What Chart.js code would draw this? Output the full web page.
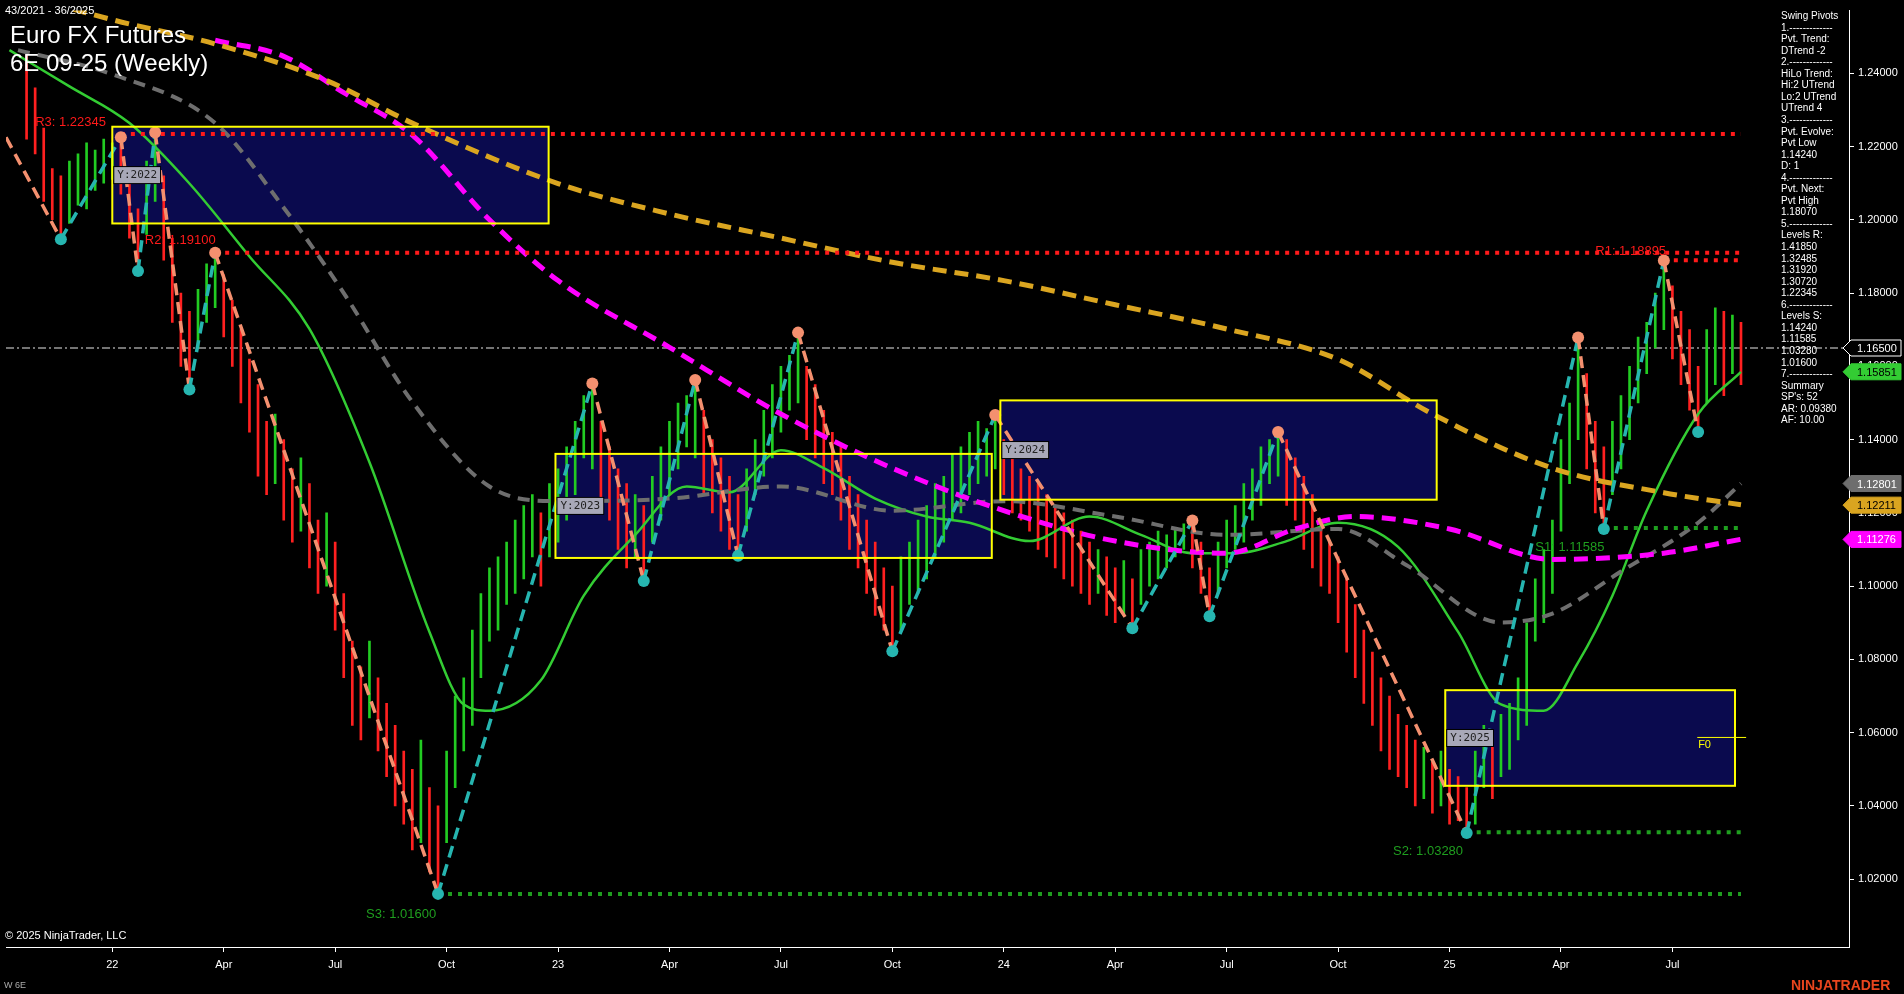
<!DOCTYPE html>
<html lang="en">
<head>
<meta charset="UTF-8">
<title>Euro FX Futures 6E 09-25 (Weekly)</title>
<style>
    body { margin: 0; padding: 0; background: #000; overflow: hidden; }
    #wrap { width: 1904px; height: 994px; }
</style>
<script src="https://cdn.jsdelivr.net/npm/chart.js"></script>
</head>
<body>
<div id="wrap"><canvas id="chart"></canvas></div>
<script>
    // week index 0 = first week of 2022
    const tickWeeks = [0, 13, 26, 39, 52, 65, 78, 91, 104, 117, 130, 143, 156, 169, 182];
    const tickLabels = ['22', 'Apr', 'Jul', 'Oct', '23', 'Apr', 'Jul', 'Oct', '24', 'Apr', 'Jul', 'Oct', '25', 'Apr', 'Jul'];
    const priceTicks = [1.02, 1.04, 1.06, 1.08, 1.10, 1.12, 1.14, 1.16, 1.18, 1.20, 1.22, 1.24];

    const firstWeek = -10;
    // weekly [low, high]
    const bars = [
        [1.222,1.245],[1.218,1.236],[1.205,1.225],[1.200,1.214],[1.195,1.212],[1.199,1.216],[1.204,1.218],[1.203,1.221],[1.208,1.219],[1.210,1.222],
        [1.211,1.221],[1.207,1.2225],[1.195,1.214],[1.186,1.203],[1.196,1.216],[1.205,1.2238],[1.189,1.212],[1.172,1.195],[1.160,1.180],[1.1537,1.175],
        [1.165,1.181],[1.172,1.188],[1.176,1.191],[1.168,1.185],[1.160,1.178],[1.150,1.170],[1.142,1.162],[1.130,1.155],[1.125,1.145],[1.128,1.147],
        [1.118,1.140],[1.112,1.132],[1.115,1.135],[1.105,1.128],[1.098,1.118],[1.100,1.120],[1.088,1.112],[1.075,1.098],[1.062,1.085],[1.058,1.078],
        [1.064,1.085],[1.055,1.075],[1.048,1.068],[1.040,1.062],[1.035,1.055],[1.028,1.050],[1.030,1.058],[1.022,1.045],[1.016,1.040],[1.030,1.055],
        [1.045,1.070],[1.055,1.075],[1.062,1.088],[1.075,1.098],[1.085,1.105],[1.088,1.108],[1.095,1.112],[1.098,1.118],[1.102,1.122],[1.108,1.125],
        [1.100,1.120],[1.108,1.128],[1.112,1.132],[1.118,1.138],[1.125,1.145],[1.135,1.152],[1.132,1.1553],[1.122,1.145],[1.118,1.138],[1.110,1.132],
        [1.105,1.128],[1.108,1.125],[1.1014,1.122],[1.112,1.130],[1.118,1.138],[1.125,1.145],[1.132,1.150],[1.138,1.152],[1.135,1.1563],[1.125,1.148],
        [1.120,1.140],[1.115,1.135],[1.110,1.130],[1.1083,1.125],[1.115,1.132],[1.125,1.140],[1.130,1.148],[1.135,1.155],[1.142,1.160],[1.148,1.163],
        [1.150,1.1692],[1.140,1.160],[1.135,1.155],[1.128,1.148],[1.125,1.142],[1.118,1.138],[1.110,1.130],[1.105,1.125],[1.098,1.118],[1.092,1.112],
        [1.088,1.105],[1.0822,1.100],[1.088,1.108],[1.095,1.112],[1.098,1.118],[1.102,1.122],[1.108,1.128],[1.112,1.130],[1.118,1.136],[1.120,1.138],
        [1.125,1.142],[1.128,1.145],[1.130,1.143],[1.132,1.1467],[1.125,1.140],[1.120,1.138],[1.118,1.132],[1.115,1.130],[1.110,1.128],[1.108,1.125],
        [1.105,1.122],[1.102,1.120],[1.100,1.118],[1.098,1.115],[1.095,1.112],[1.098,1.110],[1.092,1.108],[1.090,1.105],[1.092,1.107],[1.0885,1.102],
        [1.095,1.110],[1.100,1.112],[1.102,1.115],[1.105,1.114],[1.108,1.116],[1.110,1.117],[1.105,1.1179],[1.098,1.112],[1.0918,1.105],[1.098,1.112],
        [1.105,1.118],[1.110,1.122],[1.112,1.128],[1.118,1.132],[1.122,1.138],[1.128,1.140],[1.130,1.1421],[1.122,1.140],[1.118,1.135],[1.110,1.130],
        [1.105,1.125],[1.100,1.118],[1.098,1.112],[1.090,1.108],[1.082,1.102],[1.075,1.095],[1.068,1.088],[1.062,1.082],[1.055,1.075],[1.050,1.070],
        [1.048,1.065],[1.045,1.062],[1.040,1.058],[1.042,1.056],[1.038,1.052],[1.040,1.055],[1.035,1.050],[1.036,1.048],[1.0326,1.045],[1.035,1.055],
        [1.045,1.062],[1.042,1.060],[1.048,1.065],[1.050,1.068],[1.058,1.075],[1.062,1.090],[1.085,1.102],[1.090,1.110],[1.098,1.118],[1.115,1.140],
        [1.128,1.150],[1.140,1.1679],[1.132,1.158],[1.120,1.145],[1.1156,1.138],[1.125,1.145],[1.132,1.152],[1.140,1.160],[1.150,1.168],[1.158,1.172],
        [1.165,1.180],[1.170,1.1889],[1.162,1.182],[1.155,1.175],[1.148,1.170],[1.1421,1.160],[1.150,1.170],[1.155,1.176],[1.152,1.175],[1.158,1.174],
        [1.155,1.172]
    ];

    // moving averages, sampled [week, price]
    const maFast = [[-12,1.2463],[-5,1.2364],[2,1.2264],[9,1.2099],[16,1.19],[23,1.1702],[30,1.1338],[37,1.0875],[41,1.0677],[44,1.066],[50,1.0743],[55,1.0974],
        [61,1.114],[67,1.1272],[72,1.1256],[78,1.1371],[83,1.1322],[89,1.1239],[95,1.119],[100,1.1173],[107,1.1123],[114,1.119],[120,1.114],[126,1.109],
        [131,1.109],[137,1.1123],[143,1.1173],[150,1.1107],[157,1.0875],[162,1.0677],[167,1.066],[171,1.0792],[175,1.0974],[179,1.1206],[185,1.147],[190,1.1585]];
    const maGray = [[-11,1.2463],[0,1.2397],[12,1.2264],[20,1.2033],[27,1.18],[35,1.1503],[44,1.1272],[52,1.1232],[65,1.1239],[78,1.1272],[91,1.1206],
        [104,1.1232],[117,1.119],[130,1.114],[143,1.1156],[151,1.1057],[162,1.0901],[168,1.0925],[176,1.104],[185,1.1173],[190,1.128]];
    const maMagenta = [[12,1.249],[20,1.2446],[27,1.2347],[35,1.2231],[44,1.2],[52,1.1834],[65,1.1652],[78,1.147],[91,1.1322],[104,1.1206],[117,1.1123],
        [130,1.109],[138,1.1156],[145,1.119],[156,1.1156],[168,1.1073],[181,1.109],[190,1.1128]];
    const maGold = [[-12,1.2625],[0,1.2546],[12,1.248],[25,1.238],[35,1.2264],[52,1.2099],[65,1.2016],[78,1.195],[91,1.1884],[104,1.1834],[117,1.1768],
        [130,1.1702],[143,1.1619],[154,1.147],[168,1.1322],[181,1.1255],[190,1.1222]];

    // swing pivots [week, price]
    const pivots = [[-12.4,1.2225],[-6,1.1947],[1,1.2225],[3,1.186],[5,1.2238],[9,1.1537],[12,1.191],[38,1.016],[56,1.1553],[62,1.1014],[68,1.1563],
        [73,1.1083],[80,1.1692],[91,1.0822],[103,1.1467],[119,1.0885],[126,1.1179],[128,1.0918],[136,1.1421],[158,1.0326],[171,1.1679],[174,1.1156],
        [181,1.1889],[185,1.1421]];

    // levels: [label, price, from week, to week, colour]
    const levels = [
        ['R3: 1.22345', 1.22345, 1, 190, '#ff1a1a'],
        ['R2: 1.19100', 1.19100, 12, 190, '#ff1a1a'],
        ['R1: 1.18895', 1.18895, 181, 190, '#ff1a1a'],
        ['S1: 1.11585', 1.11585, 174, 190, '#1f9e1f'],
        ['S2: 1.03280', 1.03280, 158, 190, '#1f9e1f'],
        ['S3: 1.01600', 1.01600, 38, 190, '#1f9e1f']
    ];
    const levelLabelPos = [[-9, 1.2265], [3.8, 1.1945], [173, 1.1915], [166, 1.1105], [149.4, 1.0275], [29.6, 1.0105]];

    // yearly boxes: [label, week from, week to, price low, price high]
    const yearBoxes = [
        ['Y:2022', 0, 50.9, 1.199, 1.2254],
        ['Y:2023', 51.7, 102.6, 1.1077, 1.1361],
        ['Y:2024', 103.6, 154.5, 1.1236, 1.1507],
        ['Y:2025', 155.5, 189.3, 1.0455, 1.0716]
    ];

    const lastPrice = 1.165;
    const valueTags = [[1.165, '#000', '#fff', '#fff'], [1.15851, '#33cc33', '#000', '#33cc33'], [1.12801, '#6e6e6e', '#fff', '#6e6e6e'],
        [1.12211, '#daa520', '#000', '#daa520'], [1.11276, '#ff00ff', '#fff', '#ff00ff']];

    const infoLines = ['Swing Pivots', '1.-------------', 'Pvt. Trend:', 'DTrend -2', '2.-------------', 'HiLo Trend:', 'Hi:2 UTrend', 'Lo:2 UTrend',
        'UTrend 4', '3.-------------', 'Pvt. Evolve:', 'Pvt Low', '1.14240', 'D: 1', '4.-------------', 'Pvt. Next:', 'Pvt High', '1.18070',
        '5.-------------', 'Levels R:', '1.41850', '1.32485', '1.31920', '1.30720', '1.22345', '6.-------------', 'Levels S:', '1.14240', '1.11585',
        '1.03280', '1.01600', '7.-------------', 'Summary', "SP's: 52", 'AR: 0.09380', 'AF: 10.00'];

    const barData = bars.map((b, k) => ({ x: firstWeek + k, y: b }));
    const barColors = bars.map((b, k) => {
        if (k === 0) return '#ff2020';
        return (b[0] + b[1]) >= (bars[k - 1][0] + bars[k - 1][1]) ? '#22cc22' : '#ff2020';
    });
    const toPts = arr => arr.map(p => ({ x: p[0], y: p[1] }));

    const maLine = (data, color, dash, width) => ({
        type: 'line', data: toPts(data), borderColor: color, borderWidth: width, borderDash: dash,
        pointRadius: 0, tension: 0.4, cubicInterpolationMode: 'monotone', order: 2
    });

    const levelSets = levels.map(l => ({
        type: 'line', data: [{ x: l[2], y: l[1] }, { x: l[3], y: l[1] }], borderColor: l[4], borderWidth: 4,
        borderDash: [4, 6], pointRadius: 0, order: 1
    }));

    const up = '#26b5b0', down = '#f4906f';
    const pivotColors = pivots.map((p, k) => {
        const prev = pivots[k - 1], next = pivots[k + 1];
        return (prev ? p[1] > prev[1] : p[1] > next[1]) ? down : up;
    });

    const overlay = {
        id: 'overlay',
        beforeDatasetsDraw(chart) {
            const { ctx, scales: { x, y } } = chart;
            ctx.save();
            yearBoxes.forEach(b => {
                const x0 = x.getPixelForValue(b[1]), x1 = x.getPixelForValue(b[2]);
                const y0 = y.getPixelForValue(b[4]), y1 = y.getPixelForValue(b[3]);
                ctx.fillStyle = '#0a0a4e';
                ctx.fillRect(x0, y0, x1 - x0, y1 - y0);
            });
            // last price line
            ctx.strokeStyle = '#9a9a9a';
            ctx.lineWidth = 1.5;
            ctx.setLineDash([8, 3, 2, 3]);
            const yl = y.getPixelForValue(lastPrice);
            ctx.beginPath(); ctx.moveTo(chart.chartArea.left, yl); ctx.lineTo(chart.chartArea.right, yl); ctx.stroke();
            ctx.restore();
        },
        afterDatasetsDraw(chart) {
            const { ctx, scales: { x, y }, chartArea } = chart;
            ctx.save();
            yearBoxes.forEach(b => {
                const x0 = x.getPixelForValue(b[1]), x1 = x.getPixelForValue(b[2]);
                const y0 = y.getPixelForValue(b[4]), y1 = y.getPixelForValue(b[3]);
                ctx.strokeStyle = '#ffff00';
                ctx.lineWidth = 2;
                ctx.strokeRect(x0, y0, x1 - x0, y1 - y0);
                ctx.font = '11px "DejaVu Sans Mono", monospace';
                const w = ctx.measureText(b[0]).width + 6;
                const ym = (y0 + y1) / 2 - 8;
                ctx.fillStyle = '#000';
                ctx.fillRect(x0 + 1, ym - 1, w + 2, 18);
                ctx.fillStyle = '#a8a8b8';
                ctx.fillRect(x0 + 2, ym, w, 16);
                ctx.fillStyle = '#222';
                ctx.textBaseline = 'middle';
                ctx.fillText(b[0], x0 + 5, ym + 8);
            });
            // F0 marker
            ctx.strokeStyle = '#ffff00'; ctx.lineWidth = 1;
            const fy = y.getPixelForValue(1.0587);
            ctx.beginPath(); ctx.moveTo(x.getPixelForValue(184.9), fy); ctx.lineTo(x.getPixelForValue(190.6), fy); ctx.stroke();
            ctx.fillStyle = '#ffff00'; ctx.font = '11px Arial'; ctx.textBaseline = 'top';
            ctx.fillText('F0', x.getPixelForValue(185), fy + 2);

            // level labels
            ctx.font = '13px Arial'; ctx.textBaseline = 'middle';
            levels.forEach((l, k) => {
                ctx.fillStyle = l[4];
                ctx.fillText(l[0], x.getPixelForValue(levelLabelPos[k][0]), y.getPixelForValue(levelLabelPos[k][1]));
            });

            // titles
            ctx.fillStyle = '#fff'; ctx.textBaseline = 'alphabetic';
            ctx.font = '11px Arial';
            ctx.fillText('43/2021 - 36/2025', 5, 14);
            ctx.font = '24px Arial';
            ctx.fillText('Euro FX Futures', 10, 43);
            ctx.fillText('6E 09-25 (Weekly)', 10, 71);
            ctx.font = '11px Arial';
            ctx.fillText('\u00a9 2025 NinjaTrader, LLC', 5, 939);

            // info panel
            ctx.font = '10px Arial';
            infoLines.forEach((t, k) => ctx.fillText(t, 1781, 19 + k * 11.55));

            // value tags
            valueTags.forEach(t => {
                const ty = y.getPixelForValue(t[0]);
                const xl = chartArea.right - 6;
                ctx.beginPath();
                ctx.moveTo(xl, ty);
                ctx.lineTo(xl + 8, ty - 8);
                ctx.lineTo(1901, ty - 8);
                ctx.lineTo(1901, ty + 8);
                ctx.lineTo(xl + 8, ty + 8);
                ctx.closePath();
                ctx.fillStyle = t[1]; ctx.fill();
                ctx.strokeStyle = t[3]; ctx.lineWidth = 1; ctx.stroke();
                ctx.fillStyle = t[2]; ctx.font = '11px Arial'; ctx.textBaseline = 'middle';
                ctx.fillText(t[0].toFixed(5), 1857, ty + 1);
            });

            // footer
            ctx.textBaseline = 'alphabetic';
            ctx.fillStyle = '#aaa'; ctx.font = '9px Arial';
            ctx.fillText('W 6E', 4, 988);
            ctx.fillStyle = '#e8451e'; ctx.font = 'bold 14px Arial';
            ctx.fillText('NINJATRADER', 1791, 990);
            ctx.restore();
        }
    };

    Chart.defaults.font.family = 'Arial, "Liberation Sans", sans-serif';
    new Chart(document.getElementById('chart'), {
        data: {
            datasets: [
                { type: 'bar', data: barData, backgroundColor: barColors, barThickness: 2, grouped: false, order: 3 },
                maLine(maGold, '#daa520', [14, 8], 5),
                maLine(maMagenta, '#ff00ff', [14, 8], 5),
                maLine(maGray, '#6e6e6e', [12, 8], 4),
                maLine(maFast, '#33cc33', [], 2.5),
                ...levelSets,
                {
                    type: 'line', data: toPts(pivots), borderWidth: 3.5, borderDash: [12, 7], tension: 0,
                    segment: { borderColor: c => c.p1.parsed.y > c.p0.parsed.y ? up : down },
                    borderColor: down,
                    pointRadius: pivots.map((p, k) => k === 0 ? 0 : 6),
                    pointBackgroundColor: pivotColors, pointBorderWidth: 0, order: 0
                }
            ]
        },
        options: {
            responsive: true, maintainAspectRatio: false, animation: false,
            layout: { padding: 0 },
            plugins: { legend: { display: false }, tooltip: { enabled: false } },
            scales: {
                x: {
                    type: 'linear', min: -12.4, max: 202.6, offset: false,
                    afterFit: s => { s.height = 47; },
                    afterBuildTicks: s => { s.ticks = tickWeeks.map(v => ({ value: v })); },
                    ticks: { color: '#fff', font: { size: 11 }, padding: 6, autoSkip: false, maxRotation: 0,
                        callback: v => tickLabels[tickWeeks.indexOf(v)] },
                    grid: { display: true, offset: false, drawOnChartArea: false, color: '#fff', tickLength: 5 },
                    border: { color: '#fff', width: 1 }
                },
                y: {
                    position: 'right', min: 1.0015, max: 1.2571,
                    afterFit: s => { s.width = 55; },
                    afterBuildTicks: s => { s.ticks = priceTicks.map(v => ({ value: v })); },
                    ticks: { color: '#fff', font: { size: 11 }, padding: 4, callback: v => v.toFixed(5) },
                    grid: { display: true, drawOnChartArea: false, color: '#fff', tickLength: 5 },
                    border: { color: '#fff', width: 1 }
                }
            }
        },
        plugins: [overlay]
    });
</script>
</body>
</html>
